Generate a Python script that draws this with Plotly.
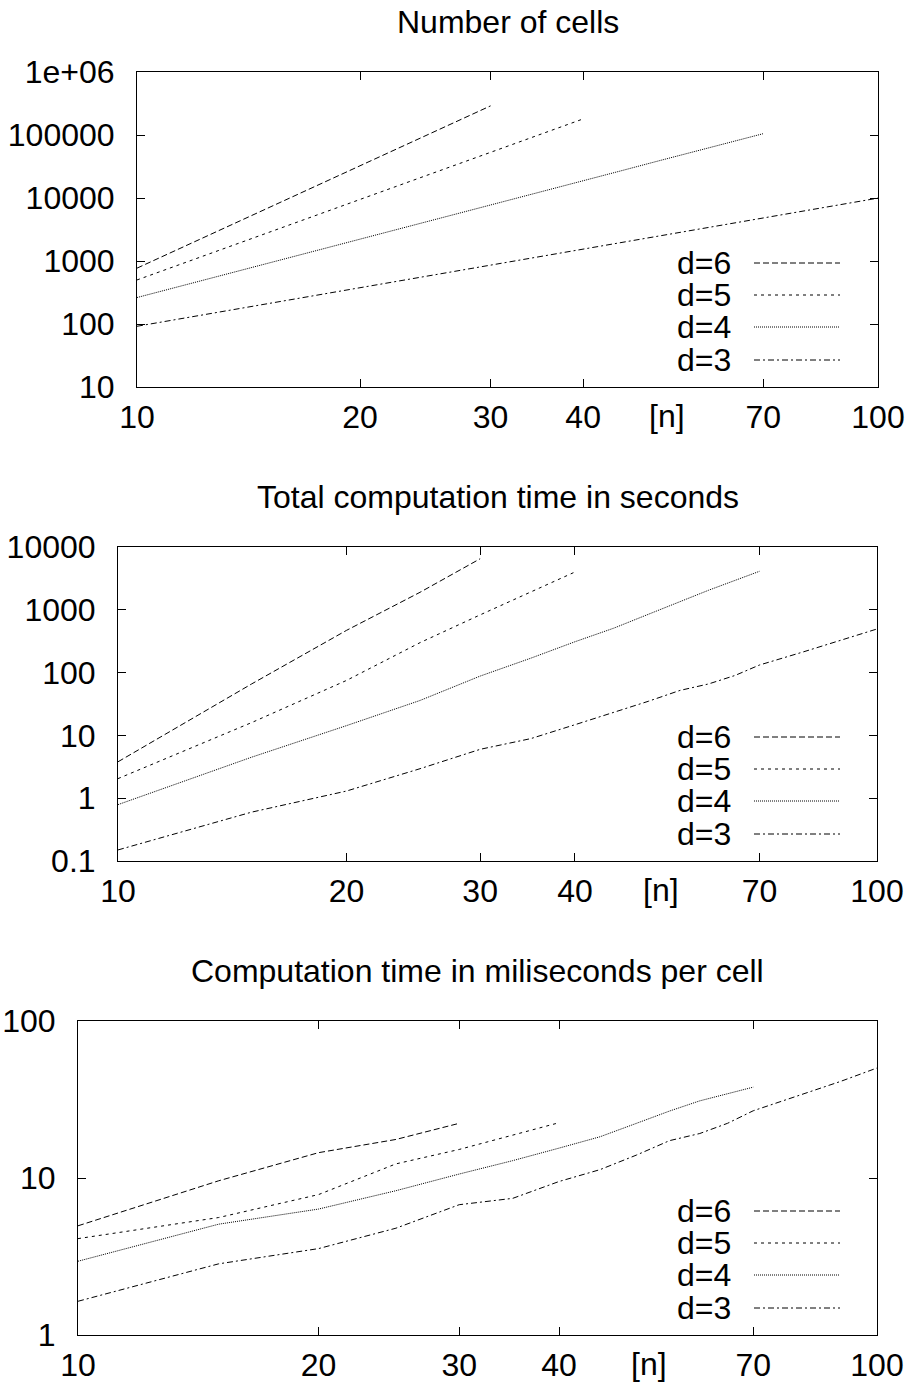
import plotly.graph_objects as go

# ---------------- data ----------------
n3 = [10, 15, 20, 25, 30, 35, 40, 45, 50, 55, 60, 65, 70, 80, 90, 100]
n4 = [10, 15, 20, 25, 30, 35, 40, 45, 50, 55, 60, 70]
n5 = [10, 15, 20, 25, 30, 35, 40]
n6 = [10, 15, 20, 25, 30]

cells3 = [92, 210, 375, 595, 865, 1180, 1550, 1980, 2450, 2980, 3550, 4180, 4830, 6350, 8050, 9950]
cells4 = [263, 910, 2200, 4400, 7800, 12500, 18800, 27000, 37500, 50000, 65500, 105000]
cells5 = [500, 2800, 9500, 24400, 53000, 101000, 180000]
cells6 = [770, 6900, 32500, 108000, 290000]

time3 = [0.15, 0.6, 1.3, 2.95, 6.0, 8.9, 14.8, 23, 35, 52, 66, 90, 132, 214, 330, 495]
time4 = [0.79, 4.5, 14.3, 36, 88, 170, 310, 510, 850, 1350, 2050, 4100]
time5 = [2.05, 16, 75, 300, 830, 1900, 4000]
time6 = [3.8, 66, 470, 1900, 6500]

ms3 = [1.64, 2.84, 3.55, 4.79, 6.76, 7.42, 9.5, 11.3, 14, 17.3, 19.2, 22.3, 26.8, 33.5, 41.2, 50.2]
ms4 = [2.95, 5.08, 6.34, 8.3, 10.6, 12.9, 15.5, 18.3, 22.3, 26.7, 31, 37.9]
ms5 = [4.11, 5.6, 7.84, 12.3, 15.2, 18.7, 22.5]
ms6 = [4.96, 9.6, 14.5, 17.6, 22.3]

series_names = ["d=6", "d=5", "d=4", "d=3"]
titles = ["Number of cells", "Total computation time in seconds",
          "Computation time in miliseconds per cell"]
x_tickvals = [10, 20, 30, 40, 70, 100]
x_ticktext = ["10", "20", "30", "40", "70", "100"]
y_tickvals = [
    [10, 100, 1000, 10000, 100000, 1000000],
    [0.1, 1, 10, 100, 1000, 10000],
    [1, 10, 100],
]
y_ticktext = [
    ["10", "100", "1000", "10000", "100000", "1e+06"],
    ["0.1", "1", "10", "100", "1000", "10000"],
    ["1", "10", "100"],
]
y_ranges = [[1, 6], [-1, 4], [0, 2]]

panel_data = [
    [(n6, cells6), (n5, cells5), (n4, cells4), (n3, cells3)],
    [(n6, time6), (n5, time5), (n4, time4), (n3, time3)],
    [(n6, ms6), (n5, ms5), (n4, ms4), (n3, ms3)],
]

# ---------------- styling ----------------
W, H = 909, 1388
FONT = "Liberation Sans, Arial, Helvetica, sans-serif"
FS = 32
dashes = ["6px,3px", "3px,4px", "1px,1px", "6px,3px,2px,3px"]

# pixel frames of the three panels: left, right, top, bottom
frames = [(137, 878, 72, 387), (118, 877, 547, 861), (78, 877, 1021, 1335)]
legend_offsets = [124, 92, 60, 27]   # px above panel bottom
legend_text_right = 733
legend_line = (754, 840)

fig = go.Figure()
layout = dict(
    width=W, height=H,
    margin=dict(l=0, r=0, t=0, b=0, autoexpand=False),
    paper_bgcolor="white", plot_bgcolor="white",
    showlegend=False,
    font=dict(family=FONT, size=FS, color="black"),
)
annotations = []
shapes = []

def px(x):
    return x / W

def py(y):
    return 1 - y / H

for i, (l, r, t, b) in enumerate(frames):
    k = "" if i == 0 else str(i + 1)
    xa, ya = "x" + k, "y" + k
    layout["xaxis" + k] = dict(
        type="log", range=[1, 2], domain=[px(l), px(r)], anchor=ya,
        tickvals=x_tickvals, ticktext=x_ticktext, automargin=False,
        ticks="inside", ticklen=8, tickwidth=1, tickcolor="black",
        showline=True, linecolor="black", linewidth=1, mirror="ticks",
        showgrid=False, zeroline=False, ticklabelstandoff=2,
        tickfont=dict(family=FONT, size=FS, color="black"),
    )
    layout["yaxis" + k] = dict(
        type="log", range=y_ranges[i], domain=[py(b), py(t)], anchor=xa,
        tickvals=y_tickvals[i], ticktext=y_ticktext[i], automargin=False,
        ticks="inside", ticklen=8, tickwidth=1, tickcolor="black",
        showline=True, linecolor="black", linewidth=1, mirror="ticks",
        showgrid=False, zeroline=False, ticklabelstandoff=15,
        tickfont=dict(family=FONT, size=FS, color="black"),
    )
    for j, (xs, ys) in enumerate(panel_data[i]):
        fig.add_trace(go.Scatter(
            x=xs, y=ys, mode="lines", name=series_names[j],
            xaxis=xa, yaxis=ya,
            line=dict(color="black", width=1, dash=dashes[j]),
        ))
        yy = py(b - legend_offsets[j])
        annotations.append(dict(
            text=series_names[j], xref="paper", yref="paper",
            x=px(legend_text_right), y=yy, xanchor="right", yanchor="middle",
            height=30, valign="middle",
            showarrow=False, font=dict(family=FONT, size=FS, color="black"),
        ))
        shapes.append(dict(
            type="line", xref="paper", yref="paper",
            x0=px(legend_line[0]), x1=px(legend_line[1]), y0=yy, y1=yy,
            line=dict(color="black", width=1, dash=dashes[j]),
        ))
    # title
    annotations.append(dict(
        text=titles[i], xref=xa + " domain", yref=ya + " domain",
        x=0.5, y=1, xanchor="center", yanchor="middle", yshift=50,
        showarrow=False, font=dict(family=FONT, size=FS, color="black"),
    ))
    # [n] label
    annotations.append(dict(
        text="[n]", xref=xa + " domain", yref=ya + " domain",
        x=0.715, y=0, xanchor="center", yanchor="middle", yshift=-29,
        showarrow=False, font=dict(family=FONT, size=FS, color="black"),
    ))

layout["annotations"] = annotations
layout["shapes"] = shapes
fig.update_layout(**layout)
fig.write_html(
    "out.html",
    config={"displayModeBar": False, "staticPlot": True},
    post_script="document.body.style.margin='0px';document.body.style.overflow='hidden';",
)
